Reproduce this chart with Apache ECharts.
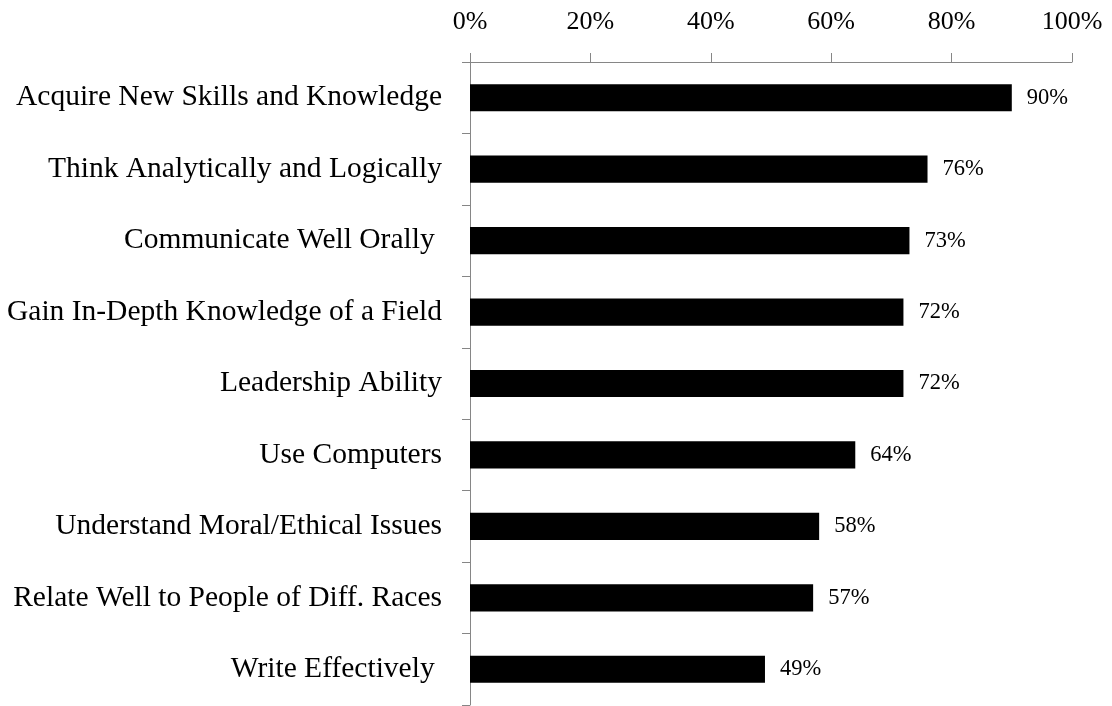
<!DOCTYPE html>
<html><head><meta charset="utf-8">
<script src="https://cdn.jsdelivr.net/npm/echarts@6/dist/echarts.min.js"></script>
<style>html,body{margin:0;padding:0;background:#fff}#c{width:1112px;height:706px}</style>
</head><body><div id="c"></div>
<script>
const categories = ["Acquire New Skills and Knowledge","Think Analytically and Logically","Communicate Well Orally ","Gain In-Depth Knowledge of a Field","Leadership Ability","Use Computers","Understand Moral/Ethical Issues","Relate Well to People of Diff. Races","Write Effectively "];
const values = [90,76,73,72,72,64,58,57,49];
const xTicks = [0,20,40,60,80,100];

const font = '"Liberation Serif","Times New Roman",serif';
const chart = echarts.init(document.getElementById('c'), null, {renderer:'canvas'});
chart.setOption({
  animation:false,
  grid:{left:470,right:40,top:62,bottom:1,containLabel:false},
  xAxis:{type:'value',position:'top',min:xTicks[0],max:xTicks[xTicks.length-1],interval:20,
    axisLine:{show:true,lineStyle:{color:'#868686',width:1}},
    axisTick:{show:true,length:9,lineStyle:{color:'#868686'}},
    splitLine:{show:false},
    axisLabel:{formatter:'{value}%',color:'#000',fontFamily:font,fontSize:26,margin:27}},
  yAxis:{type:'category',inverse:true,data:categories,
    axisLine:{show:true,lineStyle:{color:'#868686',width:1}},
    axisTick:{show:true,length:8,lineStyle:{color:'#868686'}},
    axisLabel:{color:'#000',fontFamily:font,fontSize:29.5,margin:28}},
  series:[{type:'bar',data:values,barWidth:'38%',itemStyle:{color:'#000'},
    label:{show:true,position:'right',distance:15,formatter:'{c}%',color:'#000',fontFamily:font,fontSize:22.5}}]
});
</script></body></html>
